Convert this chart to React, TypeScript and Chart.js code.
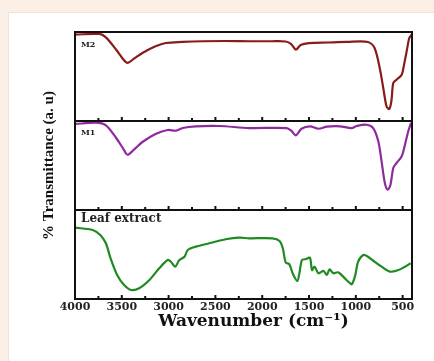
import React, { useEffect, useRef } from 'react';
import { Chart, registerables } from 'chart.js';

Chart.register(...registerables);

// ---- data (wavenumber in cm-1, transmittance in arbitrary units per panel) ----
const m2Wavenumbers = [4000, 3740, 3670, 3560, 3490, 3440, 3370, 3280, 3140, 3030, 2850, 2635, 2400, 2135, 1900, 1750, 1690, 1640, 1590, 1500, 1300, 1100, 870, 800, 745, 707, 672, 643, 620, 600, 565, 510, 485, 457, 429, 404];
const m2Values = [97.0, 97.8, 94.0, 80.1, 70.0, 65.2, 70.0, 76.4, 83.9, 87.6, 88.8, 89.6, 89.9, 89.6, 89.6, 89.3, 86.5, 80.1, 85.4, 87.6, 88.2, 88.8, 88.8, 82.0, 59.6, 37.1, 16.5, 13.5, 22.5, 42.7, 46.4, 52.0, 63.3, 78.3, 93.3, 97.0];

const m1Wavenumbers = [4000, 3780, 3670, 3560, 3490, 3440, 3370, 3280, 3140, 3010, 2920, 2850, 2710, 2460, 2140, 1740, 1690, 1640, 1580, 1490, 1400, 1310, 1170, 1045, 990, 885, 815, 760, 725, 690, 660, 630, 600, 565, 510, 475, 440, 410];
const m1Values = [96.6, 98.1, 95.2, 80.9, 69.7, 62.1, 67.8, 76.4, 85.4, 89.9, 89.1, 92.1, 94.0, 94.4, 92.1, 92.1, 89.1, 83.9, 91.3, 94.0, 91.3, 93.6, 94.0, 92.1, 94.4, 95.8, 92.1, 77.2, 54.7, 30.3, 22.8, 28.4, 47.2, 52.8, 60.3, 73.4, 88.4, 97.8];

const leafWavenumbers = [4000, 3810, 3730, 3670, 3620, 3550, 3475, 3400, 3315, 3205, 3100, 3010, 2975, 2930, 2885, 2830, 2795, 2710, 2565, 2390, 2245, 2140, 1890, 1815, 1780, 1750, 1710, 1675, 1625, 1600, 1575, 1530, 1490, 1468, 1440, 1400, 1345, 1310, 1280, 1240, 1190, 1135, 1080, 1045, 1010, 975, 920, 870, 800, 725, 635, 545, 475, 415];
const leafValues = [80.1, 77.5, 71.9, 62.6, 45.7, 27.0, 15.7, 10.1, 12.0, 21.3, 34.5, 43.8, 41.9, 36.3, 43.8, 47.5, 55.1, 58.8, 62.6, 67.1, 68.9, 68.2, 68.2, 65.2, 57.0, 41.2, 39.0, 28.9, 20.2, 30.7, 43.8, 44.9, 46.4, 32.6, 36.3, 28.9, 31.5, 27.0, 33.4, 28.9, 30.0, 25.1, 19.4, 16.5, 25.1, 41.9, 49.4, 47.5, 41.9, 36.3, 30.7, 32.6, 36.3, 40.1];

const xTickValues = [4000, 3500, 3000, 2500, 2000, 1500, 1000, 500];
const xMinorTickValues = [4000, 3750, 3500, 3250, 3000, 2750, 2500, 2250, 2000, 1750, 1500, 1250, 1000, 750, 500];
const xTitle = 'Wavenumber (cm\u207B\u00B9)';
const yTitle = '% Transmittance (a. u)';
const panelLabels = { yM2: 'M2', yM1: 'M1', yLeaf: 'Leaf extract' };

const toPoints = (xs: number[], ys: number[]) => xs.map((x, i) => ({ x, y: ys[i] }));

const framePlugin = {
  id: 'framePlugin',
  afterDatasetsDraw(chart: any) {
    const { ctx, chartArea, scales } = chart;
    const xs = scales.x;
    const ids = ['yM2', 'yM1', 'yLeaf'];
    ctx.save();
    ctx.strokeStyle = '#111';
    ctx.lineWidth = 2;
    ids.forEach((id) => {
      const s = scales[id];
      ctx.strokeRect(chartArea.left, s.top, chartArea.right - chartArea.left, s.bottom - s.top);
      // inward ticks on the bottom edge of each panel
      xMinorTickValues.forEach((v) => {
        const px = xs.getPixelForValue(v);
        const major = xTickValues.includes(v);
        ctx.beginPath();
        ctx.moveTo(px, s.bottom);
        ctx.lineTo(px, s.bottom - (major ? 4 : 3));
        ctx.stroke();
      });
    });
    // panel labels
    ctx.fillStyle = '#222';
    ctx.textBaseline = 'middle';
    ctx.textAlign = 'left';
    ctx.font = 'bold 8px "DejaVu Serif"';
    ctx.fillText(panelLabels.yM2, chartArea.left + 6, scales.yM2.top + 13);
    ctx.fillText(panelLabels.yM1, chartArea.left + 6, scales.yM1.top + 12);
    ctx.font = 'bold 12px "DejaVu Serif"';
    ctx.fillText(panelLabels.yLeaf, chartArea.left + 6, scales.yLeaf.top + 9);
    // x axis title
    ctx.font = 'bold 17px "DejaVu Serif"';
    ctx.textAlign = 'center';
    ctx.fillStyle = '#111';
    ctx.fillText(xTitle, (chartArea.left + chartArea.right) / 2 + 10, chartArea.bottom + 23);
    ctx.restore();
  },
};

const yBase = (extra: any = {}) => ({
  type: 'linear',
  position: 'left',
  stack: 'ir',
  stackWeight: 1,
  min: 0,
  max: 100,
  ticks: { display: false },
  grid: { display: false, drawTicks: false },
  border: { display: false },
  afterFit: (s: any) => { s.width = 75; },
  ...extra,
});

export default function App() {
  const canvasRef = useRef<HTMLCanvasElement | null>(null);

  useEffect(() => {
    if (!canvasRef.current) return;
    const chart = new Chart(canvasRef.current, {
      type: 'line',
      data: {
        datasets: [
          { label: 'Leaf extract', data: toPoints(leafWavenumbers, leafValues), yAxisID: 'yLeaf', borderColor: '#1f8a22', borderWidth: 2.2, pointRadius: 0, tension: 0.3, fill: false },
          { label: 'M1', data: toPoints(m1Wavenumbers, m1Values), yAxisID: 'yM1', borderColor: '#8e2a9e', borderWidth: 2.2, pointRadius: 0, tension: 0.3, fill: false },
          { label: 'M2', data: toPoints(m2Wavenumbers, m2Values), yAxisID: 'yM2', borderColor: '#8a1b1b', borderWidth: 2.2, pointRadius: 0, tension: 0.3, fill: false },
        ],
      },
      options: {
        animation: false,
        responsive: true,
        maintainAspectRatio: false,
        layout: { padding: { top: 32, right: 22, left: 0, bottom: 0 } },
        plugins: { legend: { display: false }, tooltip: { enabled: false } },
        scales: {
          x: {
            type: 'linear',
            min: 400,
            max: 4000,
            reverse: true,
            afterBuildTicks: (s: any) => { s.ticks = xTickValues.map((v) => ({ value: v })); },
            ticks: {
              color: '#222',
              font: { family: '"DejaVu Serif"', size: 11, weight: 'bold' },
              padding: 2,
              maxRotation: 0,
              autoSkip: false,
              callback: (v: any) => String(v),
            },
            grid: { display: false, drawTicks: false },
            border: { display: false },
            afterFit: (s: any) => { s.height = 62; },
          },
          yLeaf: yBase(),
          yM1: yBase({
            title: { display: true, text: yTitle, color: '#111', font: { family: '"Liberation Serif"', size: 15, weight: 'bold' }, padding: { top: 40, bottom: 0 } },
          }),
          yM2: yBase(),
        } as any,
      },
      plugins: [framePlugin],
    } as any);
    return () => chart.destroy();
  }, []);

  return (
    <div style={{ position: 'fixed', left: 0, top: 0, width: 434, height: 361, background: '#fcefe6', overflow: 'hidden' }}>
      <div style={{ position: 'absolute', left: 8, top: 12, right: -2, bottom: -2, background: '#fff', border: '1px solid #eee2da' }} />
      <div style={{ position: 'absolute', left: 0, top: 0, width: 434, height: 361 }}>
        <canvas ref={canvasRef} />
      </div>
    </div>
  );
}
